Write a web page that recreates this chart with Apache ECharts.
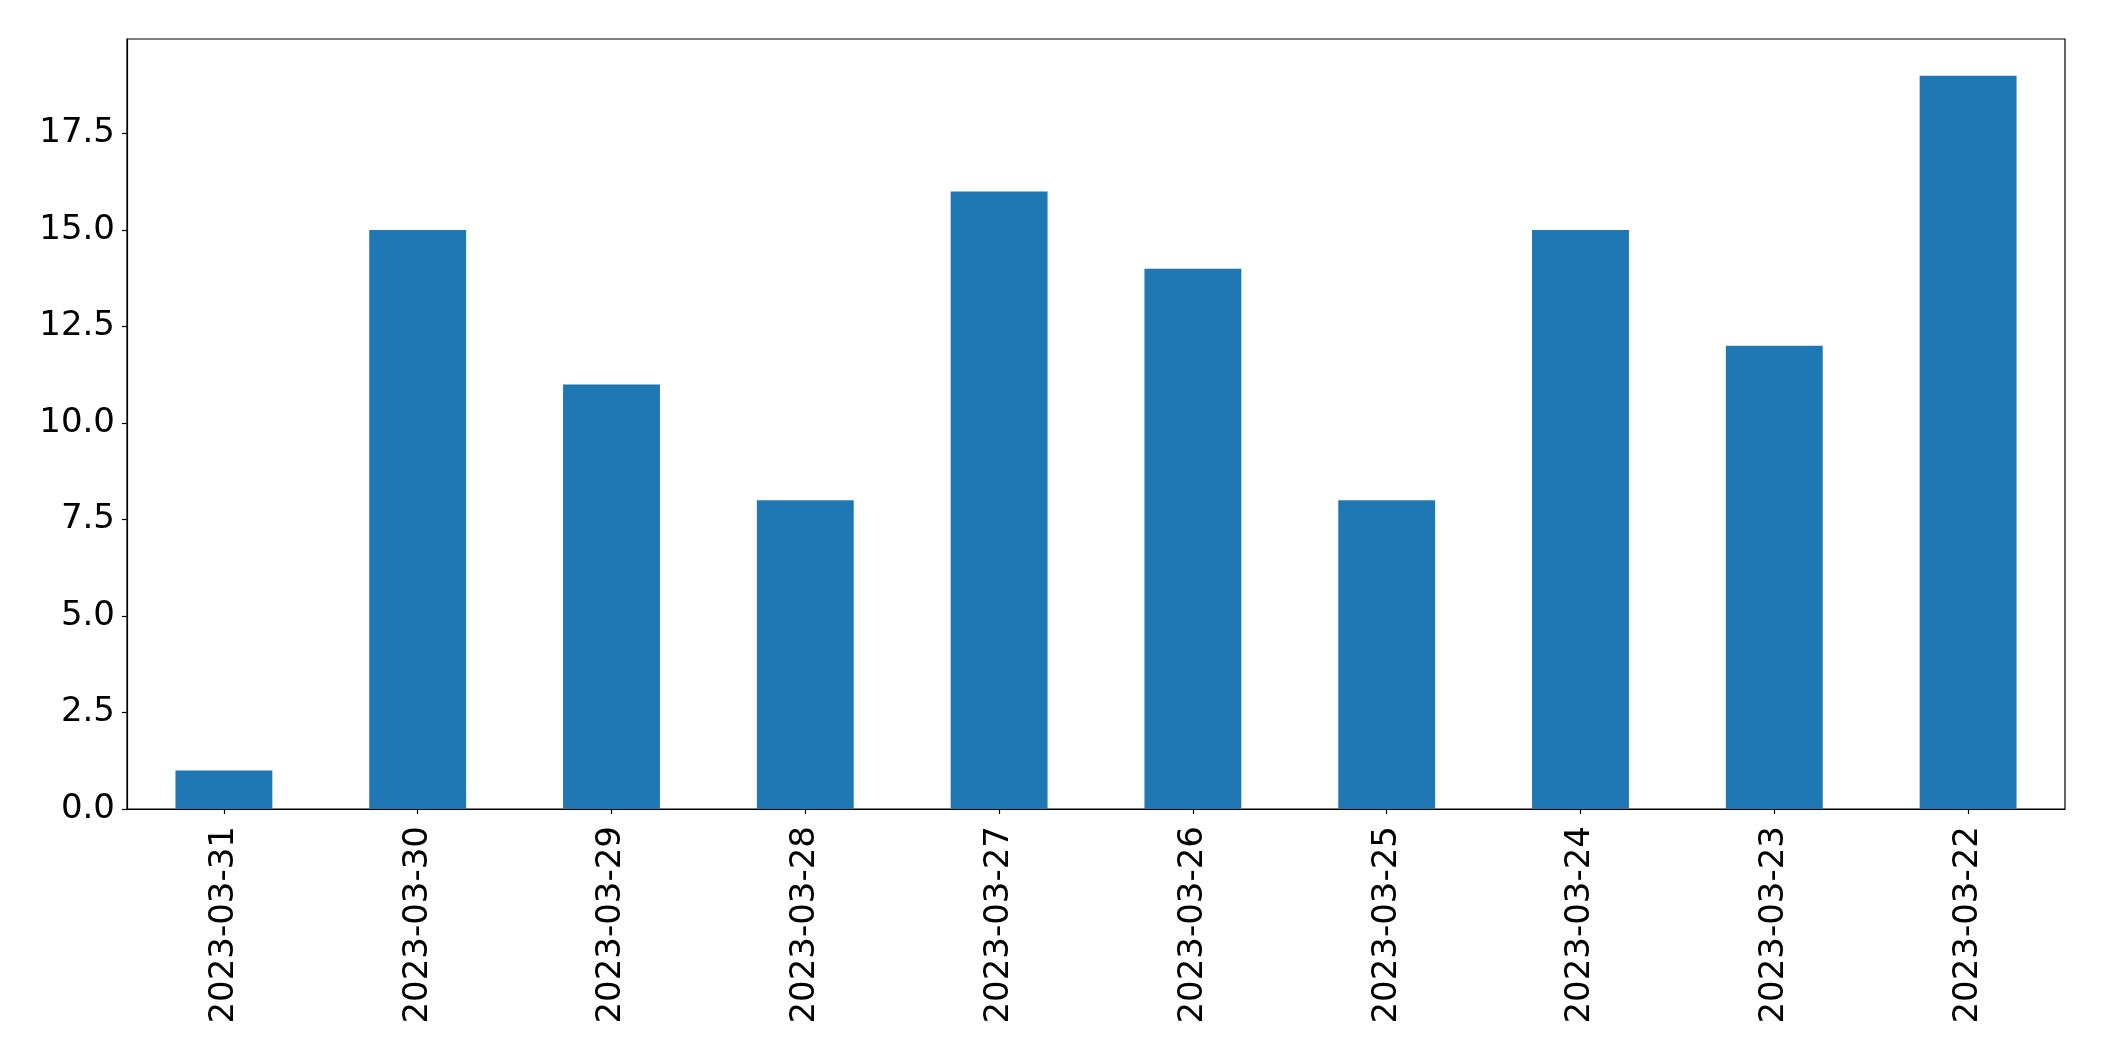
<!DOCTYPE html>
<html>
<head>
<meta charset="utf-8">
<script src="https://cdn.jsdelivr.net/npm/echarts@6/dist/echarts.min.js"></script>
<style>
html,body{margin:0;padding:0;background:#fff;}
#c{width:2104px;height:1061px;}
</style>
</head>
<body>
<div id="c"></div>
<script>
const categories = ['2023-03-31','2023-03-30','2023-03-29','2023-03-28','2023-03-27','2023-03-26','2023-03-25','2023-03-24','2023-03-23','2023-03-22'];
const values = [1, 15, 11, 8, 16, 14, 8, 15, 12, 19];
const yMin = 0;
const yMax = 19.95;
const yInterval = 2.5;

const chart = echarts.init(document.getElementById('c'), null, {renderer: 'canvas'});
const font = 'DejaVu Sans';
chart.setOption({
  animation: false,
  backgroundColor: '#fff',
  grid: {
    left: 127, right: 39, top: 39, bottom: 252,
    show: true, borderColor: '#000', borderWidth: 1.2, backgroundColor: 'transparent'
  },
  xAxis: {
    type: 'category',
    data: categories,
    boundaryGap: true,
    axisLine: {show: true, lineStyle: {color: '#000', width: 1.2}},
    axisTick: {show: true, alignWithLabel: true, length: 5, lineStyle: {color: '#000', width: 1.2}},
    axisLabel: {rotate: 90, margin: 17, color: '#000', fontFamily: font, fontSize: 34, interval: 0},
    splitLine: {show: false}
  },
  yAxis: {
    type: 'value',
    min: yMin, max: yMax, interval: yInterval,
    axisLine: {show: true, lineStyle: {color: '#000', width: 1.2}},
    axisTick: {show: true, length: 5, lineStyle: {color: '#000', width: 1.2}},
    axisLabel: {
      margin: 12, color: '#000', fontFamily: font, fontSize: 34, showMaxLabel: false,
      formatter: function (v) { return (Math.abs(v / yInterval - Math.round(v / yInterval)) < 1e-6) ? v.toFixed(1) : ''; }
    },
    splitLine: {show: false}
  },
  series: [{
    type: 'bar',
    data: values,
    barWidth: '50%',
    itemStyle: {color: '#1f77b4'}
  }]
});
</script>
</body>
</html>
